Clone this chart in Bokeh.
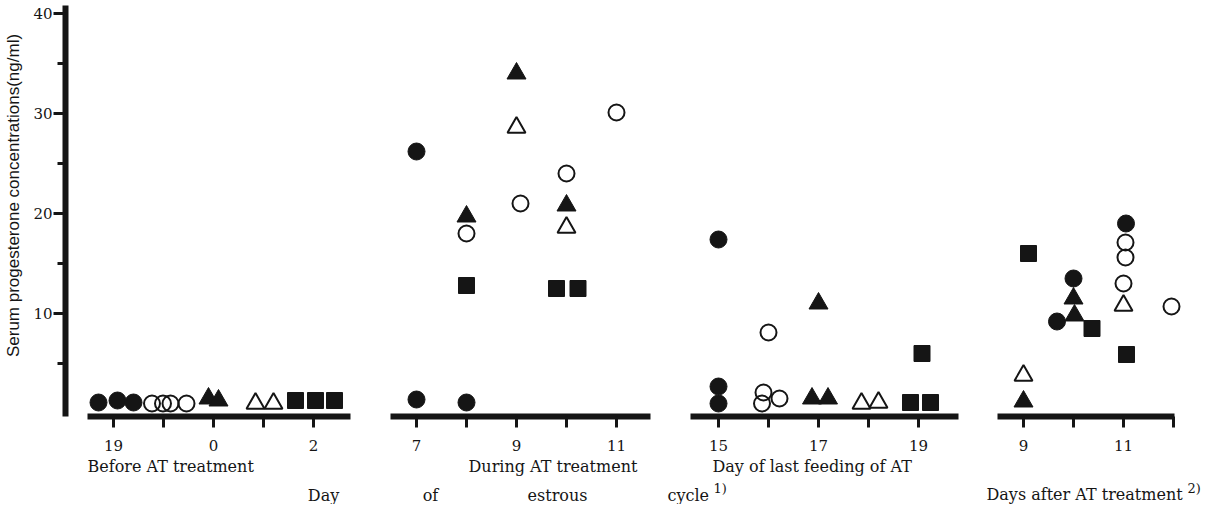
import math
from bokeh.plotting import figure
from bokeh.layouts import row
from bokeh.models import Range1d, FixedTicker, Label
from bokeh.embed import file_html
from bokeh.resources import INLINE

# ---------------- data ----------------
# segment 1 x positions are slots on the cycle axis: 0=day19, 1=day20, 2=day0, 3=day1, 4=day2
# segments 2-4 use the day numbers of their own axes
filled_circle_seg = [1, 1, 1, 2, 2, 2, 3, 3, 3, 4, 4, 4]
filled_circle_x = [-0.30, 0.08, 0.40, 7.0, 7.0, 8.0, 15.0, 15.0, 15.0, 9.67, 10.0, 11.05]
filled_circle_y = [1.1, 1.3, 1.1, 26.2, 1.4, 1.1, 17.4, 2.7, 1.0, 9.2, 13.5, 19.0]

open_circle_seg = [1, 1, 1, 1, 2, 2, 2, 2, 3, 3, 3, 3, 4, 4, 4, 4]
open_circle_x = [0.77, 0.99, 1.14, 1.46, 8.0, 9.08, 10.0, 11.0, 16.0, 15.9, 15.87, 16.22, 11.04, 11.04, 11.0, 11.96]
open_circle_y = [1.0, 1.0, 1.0, 1.0, 18.0, 21.0, 24.0, 30.1, 8.1, 2.1, 1.0, 1.5, 17.1, 15.6, 13.0, 10.7]

filled_triangle_seg = [1, 1, 2, 2, 2, 3, 3, 3, 4, 4, 4]
filled_triangle_x = [1.9, 2.1, 8.0, 9.0, 10.0, 16.87, 17.0, 17.19, 9.0, 10.0, 10.02]
filled_triangle_y = [1.5, 1.3, 19.7, 34.0, 20.8, 1.5, 11.0, 1.5, 1.2, 11.5, 9.8]

open_triangle_seg = [1, 1, 2, 2, 3, 3, 4, 4]
open_triangle_x = [2.84, 3.2, 9.0, 10.0, 17.86, 18.2, 9.0, 11.0]
open_triangle_y = [1.0, 1.0, 28.6, 18.6, 1.0, 1.1, 3.8, 10.8]

square_seg = [1, 1, 1, 2, 2, 2, 3, 3, 3, 4, 4, 4]
square_x = [3.64, 4.04, 4.42, 8.0, 9.8, 10.23, 18.84, 19.24, 19.07, 9.1, 10.37, 11.06]
square_y = [1.3, 1.3, 1.3, 12.8, 12.5, 12.5, 1.1, 1.1, 6.0, 16.0, 8.5, 5.9]

seg1_ticks = [0, 1, 2, 3, 4]
seg1_tick_labels = ["19", "", "0", "", "2"]
seg2_ticks = [7, 8, 9, 10, 11]
seg2_tick_labels = ["7", "", "9", "", "11"]
seg3_ticks = [15, 16, 17, 18, 19]
seg3_tick_labels = ["15", "", "17", "", "19"]
seg4_ticks = [9, 10, 11, 12]
seg4_tick_labels = ["9", "", "11", ""]

y_major_ticks = [10, 20, 30, 40]
y_minor_ticks = [5, 15, 25, 35]

y_title = "Serum progesterone concentrations(ng/ml)"

# ---------------- styling ----------------
INK = "#151515"
SERIF = "DejaVu Serif"
SANS = "Liberation Sans"
HEIGHT = 504
y_range = Range1d(-9.1, 41.3)
X_AXIS_AT = -0.3
ROW_FONT = "16px"


def make_fig(width, xr, first):
    kw = dict(width=width, height=HEIGHT, x_range=Range1d(*xr), y_range=y_range,
              output_backend="svg", toolbar_location=None,
              min_border_left=0, min_border_right=0,
              min_border_top=0, min_border_bottom=0,
              background_fill_color="white", border_fill_color="white",
              outline_line_color=None)
    if not first:
        kw["y_axis_location"] = None
    p = figure(**kw)
    p.xgrid.visible = False
    p.ygrid.visible = False
    return p


def style_xaxis(p, ticks, labels, bounds):
    ax = p.xaxis[0]
    ax.fixed_location = X_AXIS_AT
    ax.ticker = FixedTicker(ticks=ticks)
    ax.major_label_overrides = {t: lab for t, lab in zip(ticks, labels)}
    ax.bounds = bounds
    ax.axis_line_width = 6
    ax.axis_line_color = INK
    ax.major_tick_in = 0
    ax.major_tick_out = 11
    ax.major_tick_line_width = 3
    ax.major_tick_line_color = INK
    ax.minor_tick_line_color = None
    ax.major_label_standoff = 12
    ax.major_label_text_font = SERIF
    ax.major_label_text_font_size = "15px"
    ax.major_label_text_color = INK


def add_points(p, seg):
    groups = [
        (filled_circle_seg, filled_circle_x, filled_circle_y, "circle", 17, INK),
        (open_circle_seg, open_circle_x, open_circle_y, "circle", 16, None),
        (filled_triangle_seg, filled_triangle_x, filled_triangle_y, "triangle", 19, INK),
        (open_triangle_seg, open_triangle_x, open_triangle_y, "triangle", 18, None),
        (square_seg, square_x, square_y, "square", 16, INK),
    ]
    for segs, xs, ys, marker, size, fill in groups:
        px = [x for s, x in zip(segs, xs) if s == seg]
        py = [y for s, y in zip(segs, ys) if s == seg]
        if fill is None:
            p.scatter(px, py, marker=marker, size=size, fill_color=None,
                      line_color=INK, line_width=2)
        else:
            p.scatter(px, py, marker=marker, size=size, fill_color=fill,
                      line_color=INK, line_width=1)


def text(p, x, y, s, size=ROW_FONT, align="left", font=SERIF, angle=0.0):
    p.add_layout(Label(x=x, y=y, text=s, text_font=font, text_font_size=size,
                       text_color=INK, text_align=align, text_baseline="middle",
                       angle=angle))


# ---- panel 1 (with y axis) ----
p1 = make_fig(378, (-2.26, 5.3), True)
ya = p1.yaxis[0]
ya.fixed_location = -0.96
ya.ticker = FixedTicker(ticks=y_major_ticks, minor_ticks=y_minor_ticks)
ya.bounds = (-0.3, 40.8)
ya.axis_line_width = 6
ya.axis_line_color = INK
ya.major_tick_in = 0
ya.major_tick_out = 12
ya.minor_tick_in = 0
ya.minor_tick_out = 8
ya.major_tick_line_width = 3
ya.minor_tick_line_width = 3
ya.major_tick_line_color = INK
ya.minor_tick_line_color = INK
ya.major_label_standoff = 1
ya.major_label_text_font = SERIF
ya.major_label_text_font_size = "15px"
ya.major_label_text_color = INK
style_xaxis(p1, seg1_ticks, seg1_tick_labels, (-0.52, 4.74))
add_points(p1, 1)
text(p1, -2.0, 21.8, y_title, size="17px", align="center", font=SANS, angle=math.pi / 2)
text(p1, -0.52, -5.3, "Before AT treatment")
text(p1, 4.2, -8.2, "Day", align="center")

# ---- panel 2 ----
p2 = make_fig(284, (6.24, 11.92), False)
style_xaxis(p2, seg2_ticks, seg2_tick_labels, (6.48, 11.68))
add_points(p2, 2)
text(p2, 8.04, -5.3, "During AT treatment")
text(p2, 7.28, -8.2, "of", align="center")
text(p2, 9.82, -8.2, "estrous", align="center")

# ---- panel 3 ----
p3 = make_fig(313, (13.88, 20.14), False)
style_xaxis(p3, seg3_ticks, seg3_tick_labels, (14.44, 19.8))
add_points(p3, 3)
text(p3, 14.88, -5.3, "Day of last feeding of AT")
text(p3, 13.98, -8.2, "cycle")
text(p3, 14.9, -7.5, "1)", size="13px")

# ---- panel 4 ----
p4 = make_fig(237, (8.04, 12.78), False)
style_xaxis(p4, seg4_ticks, seg4_tick_labels, (8.48, 12.02))
add_points(p4, 4)
text(p4, 8.26, -8.1, "Days after AT treatment")
text(p4, 12.28, -7.5, "2)", size="13px")

layout = row(p1, p2, p3, p4)
open("out.html", "w").write(file_html(layout, INLINE))
